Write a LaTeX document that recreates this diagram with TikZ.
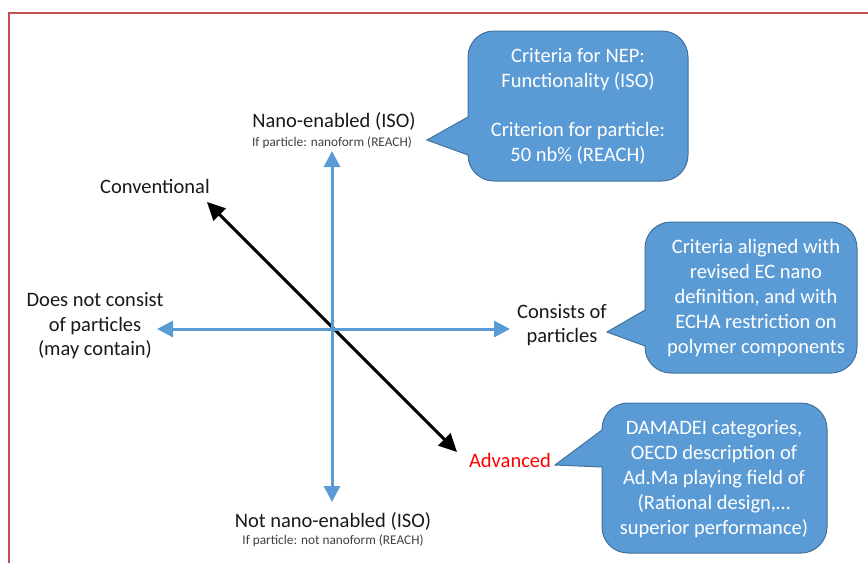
\documentclass[tikz,border=0pt]{standalone}
\usepackage{fontspec}
\setmainfont{Carlito}
\usetikzlibrary{arrows.meta}
\definecolor{axisblue}{HTML}{5B9BD5}
\definecolor{calloutedge}{HTML}{41719C}
\definecolor{framered}{HTML}{C0504D}
\begin{document}
\begin{tikzpicture}[x=1pt,y=-1pt,
  lab/.style={font=\fontsize{20.5}{24.5}\selectfont, align=center, inner sep=0pt, text=black!90},
  small/.style={font=\fontsize{13.3}{15}\selectfont, inner sep=0pt, text=black!75},
  axis/.style={draw=axisblue, line width=3pt, {Triangle[length=16pt,width=16pt]}-{Triangle[length=16pt,width=16pt]}},
  diag/.style={draw=black, line width=3pt, {Triangle[length=18pt,width=17pt]}-{Triangle[length=18pt,width=17pt]}},
  callout/.style={fill=axisblue, draw=calloutedge, line width=1pt},
  ctext/.style={font=\fontsize{20.5}{25}\selectfont, align=center, text=white, inner sep=0pt}]

\useasboundingbox (0,0) rectangle (868,563);
\draw[framered, line width=1.8pt] (9,563) -- (9,13) -- (868,13);

% axes
\coordinate (O) at (332,329);
\coordinate (vt) at (332,151);
\coordinate (vb) at (332,502);
\coordinate (hl) at (157,329);
\coordinate (hr) at (510,329);
\coordinate (dtl) at (207,202);
\coordinate (dbr) at (457,452);
\draw[diag] (dtl) -- (dbr);
\draw[axis] (vb) -- (vt);
\draw[axis] (hl) -- (hr);

% labels
\node[lab, anchor=base] (nano) at (334,127) {Nano-enabled (ISO)};
\node[small, anchor=base] (nanosub) at (332,146) {If particle: nanoform (REACH)};
\node[lab, anchor=base] (notnano) at (333,527) {Not nano-enabled (ISO)};
\node[small, anchor=base] (notnanosub) at (333,544) {If particle: not nanoform (REACH)};
\node[lab, anchor=base] (conv) at (155,193) {Conventional};
\node[lab] (nocons) at (95,326) {Does not consist\\of particles\\(may contain)};
\node[lab] (cons) at (562,325) {Consists of\\particles};
\node[lab, anchor=base, text=red] (adv) at (510,467) {Advanced};

% callout 1
\draw[callout] (468,117) [rounded corners=26pt] -- (468,31) -- (688,31) -- (688,181) -- (468,181) [sharp corners] -- (468,155) -- (427,140) -- cycle;
\node[ctext] (c1) at (578,106) {Criteria for NEP:\\Functionality (ISO)\\[24pt]Criterion for particle:\\50 nb\% (REACH)};

% callout 2
\draw[callout] (645,310) [rounded corners=26pt] -- (645,222) -- (857,222) -- (857,373) -- (645,373) [sharp corners] -- (645,346) -- (607,332) -- cycle;
\node[ctext] (c2) at (756,298) {Criteria aligned with\\revised EC nano\\definition, and with\\ECHA restriction on\\polymer components};

% callout 3
\draw[callout] (602,430) [rounded corners=26pt] -- (602,403) -- (827,403) -- (827,553) -- (602,553) [sharp corners] -- (602,467) -- (555,465) -- cycle;
\node[ctext] (c3) at (714,479) {DAMADEI categories,\\OECD description of\\Ad.Ma playing field of\\(Rational design,\ldots\\superior performance)};
\end{tikzpicture}
\end{document}
